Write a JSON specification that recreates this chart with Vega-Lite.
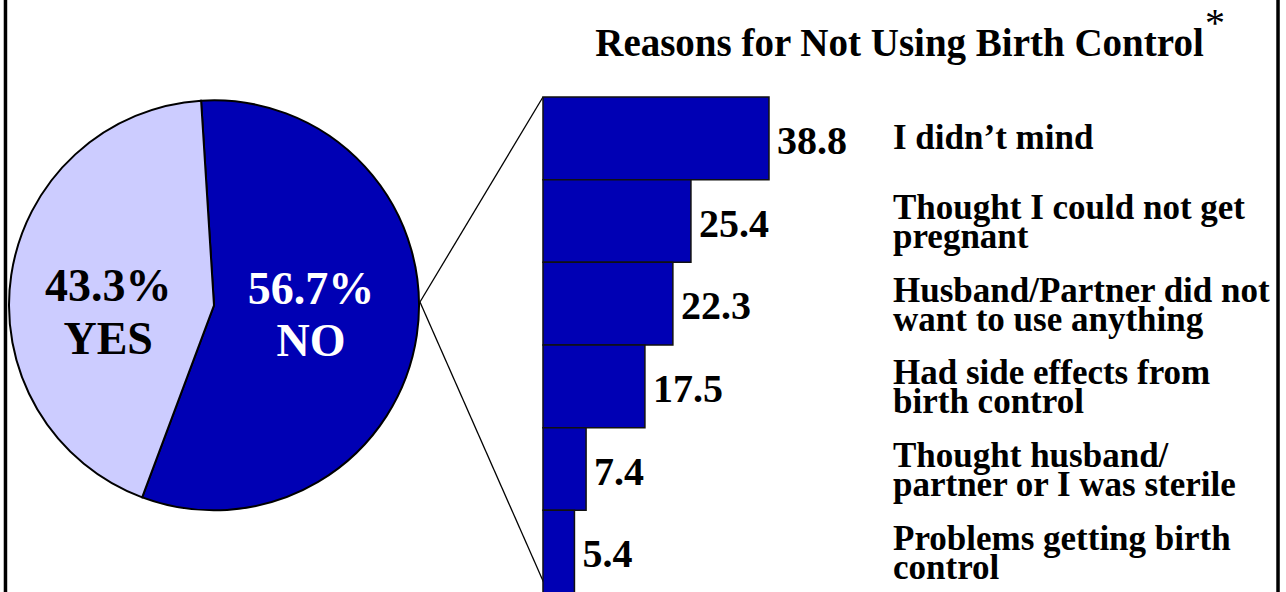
{
  "$schema": "https://vega.github.io/schema/vega-lite/v6.json",
  "width": 1286,
  "height": 592,
  "autosize": "none",
  "padding": 0,
  "background": "white",
  "config": {"view": {"stroke": null}, "axis": {"disable": true}, "font": "Liberation Serif"},
  "datasets": {
    "reasons": [
      {"reason": "I didn’t mind", "pct": 38.8},
      {"reason": "Thought I could not get\npregnant", "pct": 25.4},
      {"reason": "Husband/Partner did not\nwant to use anything", "pct": 22.3},
      {"reason": "Had side effects from\nbirth control", "pct": 17.5},
      {"reason": "Thought husband/\npartner or I was sterile", "pct": 7.4},
      {"reason": "Problems getting birth\ncontrol", "pct": 5.4}
    ],
    "use": [
      {"answer": "NO", "share": 0.567, "label": "56.7%\nNO"},
      {"answer": "YES", "share": 0.433, "label": "43.3%\nYES"}
    ]
  },
  "data": {"name": "reasons"},
  "layer": [
    {
      "data": {"values": [{}]},
      "mark": {"type": "rule", "stroke": "black", "strokeWidth": 3.5},
      "encoding": {"x": {"datum": -92.28, "type": "quantitative", "scale": {"domain": [-93.22, 127.56], "nice": false, "zero": false}}}
    },
    {
      "data": {"values": [{}]},
      "mark": {"type": "rule", "stroke": "black", "strokeWidth": 3.5},
      "encoding": {"x": {"datum": 126.19, "type": "quantitative"}}
    },
    {
      "data": {"values": [{}]},
      "mark": {"type": "rule", "stroke": "black", "strokeWidth": 1.3},
      "encoding": {
        "x": {"datum": -21.12, "type": "quantitative"},
        "y": {"datum": "Husband/Partner did not\nwant to use anything", "type": "nominal", "bandPosition": 0.48},
        "x2": {"datum": 0},
        "y2": {"datum": "I didn’t mind", "bandPosition": 0}
      }
    },
    {
      "data": {"values": [{}]},
      "mark": {"type": "rule", "stroke": "black", "strokeWidth": 1.3},
      "encoding": {
        "x": {"datum": -21.12, "type": "quantitative"},
        "y": {"datum": "Husband/Partner did not\nwant to use anything", "type": "nominal", "bandPosition": 0.48},
        "x2": {"datum": 0.86},
        "y2": {"datum": "Problems getting birth\ncontrol", "bandPosition": 0.99}
      }
    },
    {
      "data": {"name": "use"},
      "mark": {"type": "arc", "radius": 205, "stroke": "black", "strokeWidth": 2},
      "encoding": {
        "theta": {"field": "share", "type": "quantitative", "stack": true, "scale": {"domain": [0, 1], "range": [-0.063, 6.2202]}},
        "order": {"field": "answer", "sort": "ascending"},
        "color": {"field": "answer", "type": "nominal", "scale": {"domain": ["NO", "YES"], "range": ["#0000B4", "#CCCCFF"]}, "legend": null},
        "x": {"datum": -56.48, "type": "quantitative"},
        "y": {"datum": "Husband/Partner did not\nwant to use anything", "type": "nominal", "bandPosition": 0.52}
      }
    },
    {
      "data": {"name": "use"},
      "mark": {"type": "text", "radius": 107, "dy": -3, "fontSize": 46, "fontWeight": "bold", "lineBreak": "\n", "lineHeight": 53, "align": "center", "baseline": "middle", "fill": "black"},
      "encoding": {
        "theta": {"field": "share", "type": "quantitative", "stack": true},
        "order": {"field": "answer", "sort": "ascending"},
        "x": {"datum": -56.48, "type": "quantitative"},
        "y": {"datum": "Husband/Partner did not\nwant to use anything", "type": "nominal", "bandPosition": 0.52},
        "text": {"field": "label", "type": "nominal"},
        "opacity": {"condition": {"test": "datum.answer === 'YES'", "value": 1}, "value": 0}
      }
    },
    {
      "data": {"name": "use"},
      "mark": {"type": "text", "radius": 98, "dy": -30, "fontSize": 46, "fontWeight": "bold", "lineBreak": "\n", "lineHeight": 52, "align": "center", "baseline": "middle", "fill": "white"},
      "encoding": {
        "theta": {"field": "share", "type": "quantitative", "stack": true},
        "order": {"field": "answer", "sort": "ascending"},
        "x": {"datum": -56.48, "type": "quantitative"},
        "y": {"datum": "Husband/Partner did not\nwant to use anything", "type": "nominal", "bandPosition": 0.52},
        "text": {"field": "label", "type": "nominal"},
        "opacity": {"condition": {"test": "datum.answer === 'NO'", "value": 1}, "value": 0}
      }
    },
    {
      "mark": {"type": "bar", "fill": "#0000B4", "stroke": "#111111", "strokeWidth": 1.5},
      "encoding": {
        "y": {"field": "reason", "type": "nominal", "sort": null, "scale": {"domain": ["I didn’t mind", "Thought I could not get\npregnant", "Husband/Partner did not\nwant to use anything", "Had side effects from\nbirth control", "Thought husband/\npartner or I was sterile", "Problems getting birth\ncontrol"], "range": [97, 593], "paddingInner": 0, "paddingOuter": 0}},
        "x": {"field": "pct", "type": "quantitative"}
      }
    },
    {
      "mark": {"type": "text", "align": "left", "baseline": "alphabetic", "dx": 8, "dy": 15.5, "fontSize": 40, "fontWeight": "bold", "fill": "black"},
      "encoding": {
        "y": {"field": "reason", "type": "nominal", "sort": null},
        "x": {"field": "pct", "type": "quantitative"},
        "text": {"field": "pct", "type": "quantitative", "format": ".1f"}
      }
    },
    {
      "transform": [{"filter": "indexof(datum.reason, '\\n') < 0"}],
      "mark": {"type": "text", "align": "left", "baseline": "middle", "fontSize": 35, "fontWeight": "bold", "lineBreak": "\n", "lineHeight": 29, "fill": "black"},
      "encoding": {
        "y": {"field": "reason", "type": "nominal", "sort": null},
        "x": {"datum": 60.09, "type": "quantitative"},
        "text": {"field": "reason", "type": "nominal"}
      }
    },
    {
      "transform": [{"filter": "indexof(datum.reason, '\\n') >= 0"}],
      "mark": {"type": "text", "align": "left", "baseline": "middle", "dy": -13, "fontSize": 35, "fontWeight": "bold", "lineBreak": "\n", "lineHeight": 29, "fill": "black"},
      "encoding": {
        "y": {"field": "reason", "type": "nominal", "sort": null},
        "x": {"datum": 60.09, "type": "quantitative"},
        "text": {"field": "reason", "type": "nominal"}
      }
    },
    {
      "data": {"values": [{}]},
      "mark": {"type": "text", "align": "center", "baseline": "alphabetic", "fontSize": 39, "fontWeight": "bold", "fill": "black"},
      "encoding": {
        "x": {"datum": 61.2, "type": "quantitative"},
        "y": {"datum": "I didn’t mind", "type": "nominal", "bandPosition": -0.496},
        "text": {"value": "Reasons for Not Using Birth Control"}
      }
    },
    {
      "data": {"values": [{}]},
      "mark": {"type": "text", "align": "center", "baseline": "alphabetic", "fontSize": 40, "fontWeight": "normal", "fill": "black"},
      "encoding": {
        "x": {"datum": 115.37, "type": "quantitative"},
        "y": {"datum": "I didn’t mind", "type": "nominal", "bandPosition": -0.738},
        "text": {"value": "*"}
      }
    }
  ]
}
